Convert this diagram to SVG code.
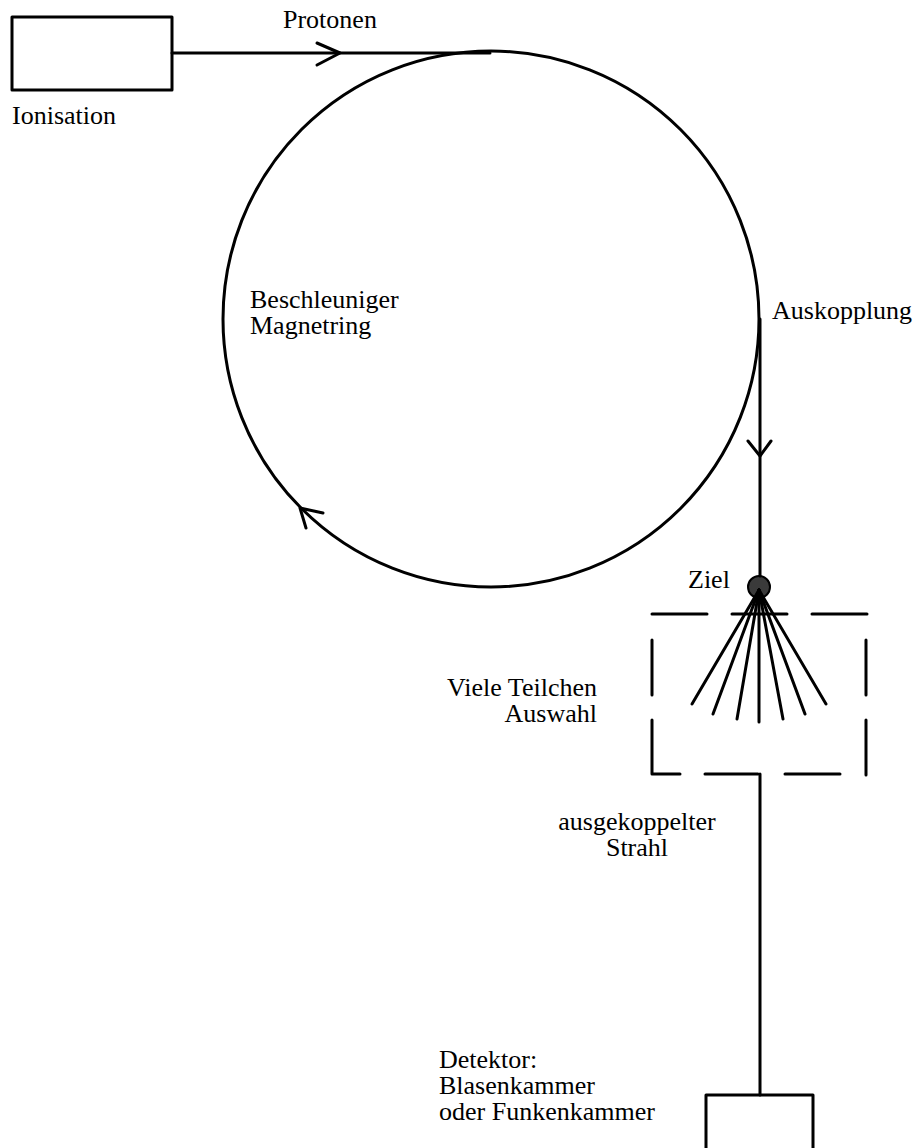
<svg xmlns="http://www.w3.org/2000/svg" width="919" height="1148" viewBox="0 0 919 1148">
<style>
.s{fill:none;stroke:#000;stroke-width:3;stroke-linecap:round;stroke-linejoin:round}
.t{font-family:"Liberation Serif","Times New Roman",serif;font-size:26px;fill:#000}
</style>
<rect width="919" height="1148" fill="#fff"/>
<g id="ionisation">
<rect class="s" x="12" y="17" width="160" height="73"/>
<text class="t" x="12" y="124">Ionisation</text>
</g>
<g id="ring">
<circle class="s" cx="491" cy="319" r="268"/>
<text class="t" x="250" y="308">Beschleuniger</text>
<text class="t" x="250" y="334">Magnetring</text>
</g>
<g id="target">
<circle cx="759" cy="587" r="11" fill="#3a3a3a" stroke="#000" stroke-width="2"/>
<text class="t" x="688" y="588">Ziel</text>
</g>
<g id="selection">
<path class="s" d="M652,614H707M732,614H787M812,614H867M866,640V695M866,720V775M840,774H785M758,774H705M680,774H652V720M652,695V640"/>
<g class="s">
<line x1="759" y1="590" x2="692" y2="704"/>
<line x1="759" y1="590" x2="713" y2="714"/>
<line x1="759" y1="590" x2="737" y2="719"/>
<line x1="759" y1="590" x2="759" y2="722"/>
<line x1="759" y1="590" x2="783" y2="719"/>
<line x1="759" y1="590" x2="805" y2="714"/>
<line x1="759" y1="590" x2="826" y2="704"/>
</g>
<text class="t" x="597" y="696" text-anchor="end">Viele Teilchen</text>
<text class="t" x="597" y="722" text-anchor="end">Auswahl</text>
</g>
<g id="detector">
<rect class="s" x="706" y="1095" width="107" height="70"/>
<text class="t" x="439" y="1068">Detektor:</text>
<text class="t" x="439" y="1094">Blasenkammer</text>
<text class="t" x="439" y="1120">oder Funkenkammer</text>
</g>
<g id="connectors">
<path class="s" d="M172,53H490"/>
<path class="s" d="M317,43L340,53L317,65"/>
<text class="t" x="283" y="28">Protonen</text>
<path class="s" d="M760,319V576"/>
<path class="s" d="M748,441L760,456L771,441"/>
<text class="t" x="772" y="319">Auskopplung</text>
<path class="s" d="M323,513L300,508L306,528"/>
<path class="s" d="M760,774V1095"/>
<text class="t" x="637" y="830" text-anchor="middle">ausgekoppelter</text>
<text class="t" x="637" y="856" text-anchor="middle">Strahl</text>
</g>
</svg>
